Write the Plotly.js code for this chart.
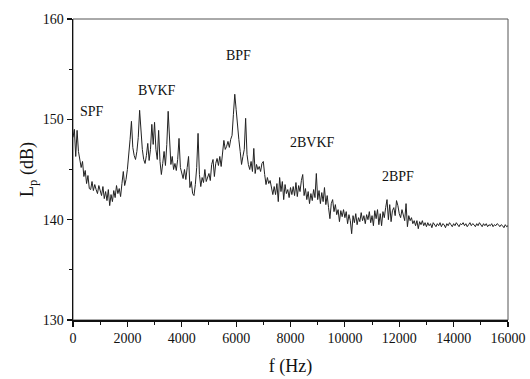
<!DOCTYPE html>
<html>
<head>
<meta charset="utf-8">
<script src="https://cdn.plot.ly/plotly-3.0.1.min.js"></script>
<style>html,body{margin:0;padding:0;background:#fff;}#chart{width:530px;height:379px;}</style>
</head>
<body>
<div id="chart"></div>
<script>
// Frequency step between spectrum samples (Hz)
const freqStep = 50;

// Sound pressure level Lp (dB), one value per 50 Hz from 0 to 16000 Hz
const levels = [
  // 0-950
  148.2,149.0,146.3,148.9,146.8,146.0,145.2,145.8,144.3,144.9,143.6,144.4,143.1,143.0,143.8,142.9,143.5,143.0,142.6,143.4,
  // 1000-1950
  143.0,142.4,143.3,142.1,142.8,141.9,143.0,141.4,142.5,141.8,142.9,142.2,143.4,142.6,143.1,142.3,143.6,144.8,143.4,144.0,
  // 2000-2950
  145.0,146.3,148.0,149.8,147.2,146.4,146.0,146.8,148.2,150.9,148.5,147.0,146.0,145.6,146.4,147.6,145.9,147.0,149.5,147.5,
  // 3000-3950
  149.7,147.0,146.0,148.9,145.8,144.5,145.6,146.8,145.4,147.5,150.8,147.2,145.5,146.3,145.0,145.6,144.9,146.0,148.1,145.2,
  // 4000-4950
  144.6,144.1,145.0,144.0,145.2,146.3,143.2,143.8,142.6,142.4,143.5,145.2,148.6,144.5,143.3,144.2,143.7,145.0,143.8,144.3,
  // 5000-5950
  144.6,143.9,145.5,146.0,144.3,145.6,146.1,145.4,146.3,145.3,146.6,147.9,147.0,147.3,147.8,147.2,148.0,148.4,150.5,152.5,
  // 6000-6950
  151.0,149.0,148.0,146.8,145.5,146.3,147.0,150.1,146.5,145.5,145.0,145.8,144.8,147.1,144.6,145.5,145.0,145.3,144.8,145.6,
  // 7000-7950
  145.8,144.5,143.5,144.2,143.6,143.9,143.2,142.5,143.3,142.5,143.6,141.8,144.2,142.8,143.8,142.0,143.5,142.6,143.0,142.2,
  // 8000-8950
  143.2,142.5,143.3,142.4,143.7,142.3,143.4,142.8,143.9,144.5,142.4,143.1,142.0,142.8,141.6,142.6,141.9,143.0,142.2,144.6,
  // 9000-9950
  142.0,142.9,141.6,142.7,141.8,143.2,141.5,142.4,141.2,140.1,141.6,142.0,140.8,141.5,140.5,141.0,139.8,140.9,140.3,141.0,
  // 10000-10950
  140.2,140.8,139.6,140.5,139.9,138.6,140.4,139.7,140.6,139.5,140.2,139.8,140.7,139.9,140.4,139.6,140.5,140.0,140.8,139.7,
  // 11000-11950
  140.4,139.4,140.9,140.1,141.0,139.5,140.6,139.4,140.8,140.2,141.2,142.0,140.0,141.5,139.8,140.9,141.2,140.4,141.9,141.4,
  // 12000-12950
  140.6,140.2,141.0,140.5,139.9,141.6,139.3,140.4,139.9,140.2,139.6,139.9,139.4,139.9,139.1,139.8,139.5,139.9,139.4,139.7,
  // 13000-13950
  139.3,139.7,139.4,139.6,139.2,139.7,139.5,139.3,139.6,139.4,139.7,139.3,139.6,139.5,139.2,139.6,139.4,139.7,139.5,139.3,
  // 14000-14950
  139.6,139.4,139.7,139.5,139.3,139.6,139.5,139.7,139.4,139.6,139.3,139.5,139.7,139.4,139.6,139.5,139.3,139.6,139.4,139.7,
  // 15000-16000
  139.5,139.3,139.6,139.4,139.6,139.3,139.5,139.4,139.6,139.3,139.5,139.4,139.6,139.5,139.3,139.5,139.4,139.2,139.5,139.3,139.4
];
const freqs = levels.map((_, i) => i * freqStep);

// Peak labels
const peakLabels = ["SPF", "BVKF", "BPF", "2BVKF", "2BPF"];
const peakLabelF = [700, 3100, 6070, 8820, 11950];
const peakLabelL = [150.8, 152.9, 156.4, 147.7, 144.3];

const xTickVals = [0, 2000, 4000, 6000, 8000, 10000, 12000, 14000, 16000];
const yTickVals = [130, 140, 150, 160];

const serif = "Liberation Serif";

const trace = {
  x: freqs, y: levels, type: "scatter", mode: "lines",
  line: {color: "#222", width: 1}, hoverinfo: "skip"
};

const annotations = peakLabels.map((t, i) => ({
  x: peakLabelF[i], y: peakLabelL[i], xref: "x", yref: "y",
  text: t, showarrow: false, font: {family: serif, size: 14, color: "#111"}
}));

const layout = {
  width: 530, height: 379,
  margin: {l: 73, r: 22, t: 19, b: 59},
  paper_bgcolor: "#fff", plot_bgcolor: "#fff",
  showlegend: false,
  font: {family: serif, color: "#111"},
  xaxis: {
    range: [0, 16000], tickvals: xTickVals, ticktext: xTickVals.map(String),
    ticks: "outside", ticklen: 5, tickwidth: 1.2, tickcolor: "#111",
    minor: {dtick: 1000, tick0: 0, ticks: "outside", ticklen: 3, tickwidth: 1, tickcolor: "#111"},
    showgrid: false, zeroline: false,
    showline: true, linecolor: "#111", linewidth: 1.5,
    tickfont: {family: serif, size: 14, color: "#111"},
    title: {text: "f (Hz)", font: {family: serif, size: 18, color: "#111"}, standoff: 14}
  },
  yaxis: {
    range: [130, 160], tickvals: yTickVals, ticktext: yTickVals.map(String),
    ticks: "outside", ticklen: 5, tickwidth: 1.2, tickcolor: "#111",
    minor: {dtick: 5, tick0: 130, ticks: "outside", ticklen: 3, tickwidth: 1, tickcolor: "#111"},
    showgrid: false, zeroline: false,
    showline: true, linecolor: "#111", linewidth: 1.5,
    tickfont: {family: serif, size: 14, color: "#111"},
    title: {text: "L<sub>p</sub> (dB)", font: {family: serif, size: 18, color: "#111"}, standoff: 4}
  },
  shapes: [{
    type: "rect", xref: "paper", yref: "paper", x0: 0, x1: 1, y0: 0, y1: 1,
    line: {color: "#555", width: 1}, fillcolor: "rgba(0,0,0,0)", layer: "below"
  }],
  annotations: annotations
};

Plotly.newPlot("chart", [trace], layout, {displayModeBar: false, staticPlot: true});
</script>
</body>
</html>
